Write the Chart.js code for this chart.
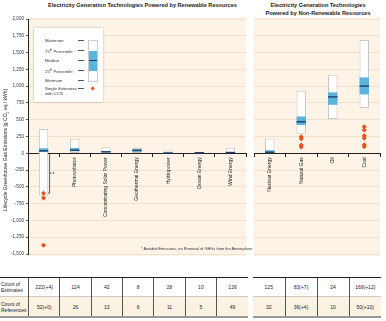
<!DOCTYPE html>
<html><head><meta charset="utf-8">
<script src="https://cdn.jsdelivr.net/npm/chart.js@4"></script>
<style>
body{margin:0;width:386px;height:321px;background:#fff;position:relative;overflow:hidden;font-family:'Liberation Sans',Arial,sans-serif;color:#222;}
.abs{position:absolute;white-space:nowrap;}
.title{font-weight:bold;font-size:5.6px;text-align:center;line-height:8px;}
.lg{font-size:4.3px;color:#333;line-height:5px;}
.dash{height:0.8px;width:6px;background:#555;}
table{border-collapse:collapse;position:absolute;font-size:5px;table-layout:fixed;}
td{text-align:center;border-left:1px solid #555;padding:0;}
td:first-child{border-left:none;}
tr.r1 td{height:18px;border-top:1px solid #222;}
tr.r2 td{height:19px;background:#fbf2e2;border-top:1px solid #ccc;border-bottom:2px solid #999;}
td.lab{text-align:left;line-height:6px;padding-left:1px;}
</style></head><body>
<div class="abs title" style="left:30px;width:225px;top:1px;">Electricity Generation Technologies Powered by Renewable Resources</div>
<div class="abs title" style="left:253px;width:130px;top:1px;">Electricity Generation Technologies<br>Powered by Non-Renewable Resources</div>
<canvas id="c1" width="250" height="262" class="abs" style="left:0;top:0;"></canvas>
<canvas id="c2" width="134" height="262" class="abs" style="left:250px;top:0;"></canvas>
<div class="abs" style="left:6px;top:150px;width:0;height:0;">
  <div class="abs" style="font-size:5px;transform:translate(-50%,-50%) rotate(-90deg);left:0;top:0;">Lifecycle Greenhouse Gas Emissions [g CO<sub style="font-size:3.5px">2</sub> eq / kWh]</div>
</div>
<!-- legend -->
<div class="abs" style="left:34px;top:28px;width:69px;height:74px;background:#fff;box-shadow:0 0 2px rgba(0,0,0,0.3);"></div>
<div class="abs lg" style="left:45px;top:37.5px;">Maximum</div>
<div class="abs lg" style="left:45px;top:47.5px;">75<sup style="font-size:3px">th</sup> Percentile</div>
<div class="abs lg" style="left:45px;top:57.5px;">Median</div>
<div class="abs lg" style="left:45px;top:67.5px;">25<sup style="font-size:3px">th</sup> Percentile</div>
<div class="abs lg" style="left:45px;top:77.5px;">Minimum</div>
<div class="abs lg" style="left:45px;top:85.5px;">Single Estimates<br>with CCS</div>
<div class="abs dash" style="left:78px;top:40px;"></div>
<div class="abs dash" style="left:78px;top:50px;"></div>
<div class="abs dash" style="left:78px;top:60px;"></div>
<div class="abs dash" style="left:78px;top:70px;"></div>
<div class="abs dash" style="left:78px;top:80px;"></div>
<div class="abs dash" style="left:78px;top:88px;"></div>
<div class="abs" style="left:88px;top:40px;width:8px;height:40px;border:1px solid #ccc;background:#fff;"></div>
<div class="abs" style="left:89px;top:51px;width:8px;height:20px;background:#5ab4dc;"></div>
<div class="abs" style="left:89px;top:59.5px;width:8px;height:1.5px;background:#1e3a5f;"></div>
<div class="abs" style="left:90.5px;top:86.5px;width:3.4px;height:3.4px;background:#e8501e;transform:rotate(45deg);"></div>
<div class="abs" style="left:141px;top:245.5px;font-size:3.9px;color:#333;">* Avoided Emissions, no Removal of GHGs from the Atmosphere</div>
<table id="t1" style="left:0;top:277px;width:248px;"></table>
<table id="t2" style="left:253px;top:277px;width:128px;"></table>
<script>
// ---- data ----
const renewCats = ['Bioenergy','Photovoltaics','Concentrating Solar Power','Geothermal Energy','Hydropower','Ocean Energy','Wind Energy'];
const renewMin = [-633, 5, 7, 6, 0, 2, 2];
const renewQ1  = [18, 29, 14, 20, 3, 6, 8];
const renewMed = [37, 46, 22, 45, 4, 8, 12];
const renewQ3  = [75, 80, 32, 57, 7, 9, 20];
const renewMax = [360, 217, 89, 79, 43, 23, 81];
const renewCCS = [['Bioenergy',-594],['Bioenergy',-665],['Bioenergy',-1368]];

const nonCats = ['Nuclear Energy','Natural Gas','Oil','Coal'];
const nonMin = [1, 290, 510, 675];
const nonQ1  = [8, 422, 722, 877];
const nonMed = [16, 469, 840, 1001];
const nonQ3  = [45, 548, 907, 1130];
const nonMax = [220, 930, 1170, 1689];
const nonCCS = [['Natural Gas',245],['Natural Gas',215],['Natural Gas',125],['Natural Gas',92],
                ['Coal',395],['Coal',348],['Coal',260],['Coal',225],['Coal',128],['Coal',98]];

const renewEstimates = ['222(+4)','124','42','8','28','10','126'];
const renewRefs = ['52(+0)','26','13','6','11','5','49'];
const nonEstimates = ['125','83(+7)','24','169(+12)'];
const nonRefs = ['32','36(+4)','10','50(+10)'];

const yTicks = {min:-1500, max:2000, step:250};

// ---- styles ----
const F = "'Liberation Sans', Arial, sans-serif";
const CREAM = '#fdf4e7', GRID = '#eddcc2';
Chart.defaults.font.family = F;

const bgPlugin = {id:'bg', beforeDraw(ch){const a=ch.chartArea,c=ch.ctx;c.save();c.fillStyle=CREAM;c.fillRect(a.left,a.top-2,a.right-a.left,a.bottom-a.top+4);c.restore();}};

function datasets(mins,q1,med,q3,max,ccs){
  const bw = {barPercentage:0.3, categoryPercentage:1, grouped:false};
  return [
    {type:'line', data: ccs.map(p=>({x:p[0],y:p[1]})), showLine:false, pointStyle:'rectRot', pointRadius:2.5,
     backgroundColor:'#e8501e', borderColor:'#e8501e', borderWidth:0, order:0},
    Object.assign({type:'bar', data: med.map(v=>[v-10,v+10]), backgroundColor:'#1e3a5f', order:1}, bw),
    Object.assign({type:'bar', data: q1.map((v,i)=>[v,q3[i]]), backgroundColor:'#5ab4dc', order:2}, bw),
    Object.assign({type:'bar', data: mins.map((v,i)=>[v,max[i]]), backgroundColor:'#ffffff', borderColor:'#c8c8c8',
     borderWidth:1, borderSkipped:false, order:3}, bw)
  ];
}

function xScale(cats){
  return {type:'category', labels:cats, position:{y:0}, offset:true,
    grid:{offset:true, drawOnChartArea:false, drawTicks:true, tickLength:3, color:'#222', tickColor:'#222'},
    border:{display:true, color:'#222', width:1},
    ticks:{autoSkip:false, minRotation:90, maxRotation:90, padding:1, font:{size:5}, color:'#222'}};
}

const bracketPlugin = {id:'bracket', afterDatasetsDraw(ch){
  const xs=ch.scales.x, ys=ch.scales.y, c=ch.ctx;
  const cx=xs.getPixelForValue(0)+6, y0=ys.getPixelForValue(0), y1=ys.getPixelForValue(renewMin[0]+40), ym=(y0+y1)/2;
  c.save();c.strokeStyle='#333';c.lineWidth=0.8;c.beginPath();
  c.moveTo(cx-1.5,y0);c.lineTo(cx,y0);c.lineTo(cx,y1);c.lineTo(cx-1.5,y1);
  c.moveTo(cx,ym);c.lineTo(cx+2,ym);c.stroke();
  c.fillStyle='#333';c.font='5px '+F;c.textBaseline='middle';c.fillText('*',cx+3,ym+1);
  c.restore();
}};

new Chart(document.getElementById('c1'), {
  data:{labels:renewCats, datasets:datasets(renewMin,renewQ1,renewMed,renewQ3,renewMax,renewCCS)},
  options:{responsive:false, animation:false, devicePixelRatio:1,
    layout:{padding:{top:19,bottom:8,left:0,right:2}},
    plugins:{legend:{display:false}, tooltip:{enabled:false}},
    scales:{
      x:xScale(renewCats),
      y:{min:yTicks.min, max:yTicks.max,
        ticks:{stepSize:yTicks.step, callback:v=>v.toLocaleString('en-US'), font:{size:4.6}, color:'#333', padding:2},
        grid:{color:GRID, lineWidth:0.8, drawTicks:true, tickLength:2, tickColor:'#333'},
        border:{display:true, color:'#222', width:1},
        afterFit(s){s.width=28;}}
    }},
  plugins:[bgPlugin, bracketPlugin]
});

new Chart(document.getElementById('c2'), {
  data:{labels:nonCats, datasets:datasets(nonMin,nonQ1,nonMed,nonQ3,nonMax,nonCCS)},
  options:{responsive:false, animation:false, devicePixelRatio:1,
    layout:{padding:{top:19,bottom:8,left:3,right:3}},
    plugins:{legend:{display:false}, tooltip:{enabled:false}},
    scales:{
      x:xScale(nonCats),
      y:{min:yTicks.min, max:yTicks.max,
        ticks:{display:false, stepSize:yTicks.step},
        grid:{color:GRID, lineWidth:0.8, drawTicks:false},
        border:{display:false},
        afterFit(s){s.width=0;}}
    }},
  plugins:[bgPlugin]
});

function buildTable(id, est, refs, withLabel){
  const t=document.getElementById(id);
  const mk=(cls,labHtml,vals)=>{
    const tr=document.createElement('tr');tr.className=cls;
    if(withLabel){const td=document.createElement('td');td.className='lab';td.style.width='27px';td.innerHTML=labHtml;tr.appendChild(td);}
    vals.forEach(v=>{const td=document.createElement('td');td.textContent=v;tr.appendChild(td);});
    t.appendChild(tr);
  };
  mk('r1','Count of<br>Estimates',est);
  mk('r2','Count of<br>References',refs);
}
buildTable('t1', renewEstimates, renewRefs, true);
buildTable('t2', nonEstimates, nonRefs, false);
</script>
</body></html>
